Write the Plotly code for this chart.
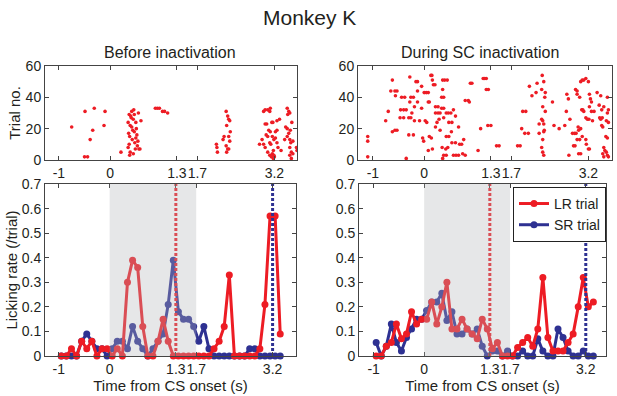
import plotly.graph_objects as go

# ---------------- data ----------------
bin_centers = [-0.95, -0.85, -0.75, -0.65, -0.55, -0.45, -0.35, -0.25, -0.15, -0.05,
               0.05, 0.15, 0.25, 0.35, 0.45, 0.55, 0.65, 0.75, 0.85, 0.95,
               1.05, 1.15, 1.25, 1.35, 1.45, 1.55, 1.65, 1.75, 1.85, 1.95,
               2.05, 2.15, 2.25, 2.35, 2.45, 2.55, 2.65, 2.75, 2.85, 2.95,
               3.05, 3.15, 3.25, 3.35]

before_lr = [0, 0, 0.03, 0, 0.06, 0.03, 0.06, 0, 0.03, 0.03,
             0, 0.03, 0, 0.30, 0.39, 0.36, 0.12, 0, 0, 0.06,
             0.15, 0.06, 0, 0, 0, 0, 0, 0, 0, 0,
             0.03, 0.06, 0.12, 0.33, 0, 0, 0, 0, 0, 0.03,
             0.21, 0.57, 0.57, 0.09]
before_sr = [0, 0, 0, 0, 0.06, 0.09, 0.06, 0.03, 0.03, 0,
             0.03, 0.06, 0.06, 0.03, 0.12, 0.06, 0.03, 0, 0.03, 0.06,
             0.09, 0.21, 0.39, 0.18, 0.15, 0.15, 0.12, 0.06, 0.12, 0.03,
             0, 0, 0, 0, 0, 0, 0, 0.03, 0.03, 0,
             0, 0, 0, 0]
during_lr = [0, 0, 0.04, 0.055, 0.13, 0.07, 0.09, 0.18, 0.13, 0.15,
             0.15, 0.22, 0.13, 0.20, 0.30, 0.11, 0.11, 0.15, 0.11, 0.09,
             0.07, 0.15, 0.11, 0.03, 0.055, 0, 0, 0, 0.035, 0.055,
             0.075, 0.04, 0.11, 0.32, 0.075, 0.02, 0.02, 0.02, 0.055, 0.09,
             0.20, 0.32, 0.20, 0.22]
during_sr = [0.055, 0, 0.04, 0.13, 0.055, 0.02, 0.075, 0.11, 0.15, 0.15,
             0.185, 0.22, 0.22, 0.255, 0.145, 0.18, 0.09, 0.09, 0.11, 0.09,
             0.11, 0.04, 0, 0.02, 0.02, 0, 0.02, 0, 0, 0.02,
             0, 0, 0.07, 0.02, 0, 0, 0.11, 0.075, 0.02, 0,
             0, 0.02, 0, 0]

# raster: (lick time, trial number)
before_raster_t = [-0.75, -0.50, -0.44, -0.49, -0.31, -0.34, -0.39, -0.10, -0.12, 0.21,
                   0.35, 0.37, 0.36, 0.38, 0.37, 0.35, 0.39, 0.38, 0.40, 0.41, 0.42, 0.43, 0.44,
                   0.45, 0.46, 0.47, 0.48, 0.49, 0.50, 0.51, 0.52, 0.53, 0.55, 0.56, 0.58, 0.60,
                   0.45, 0.42, 0.50, 0.54, 0.39, 0.47,
                   0.88, 0.92, 0.96, 1.02, 1.06, 1.12,
                   2.07, 2.08, 2.09, 2.20, 2.22, 2.26, 2.29, 2.31, 2.33, 2.27, 2.34, 2.31,
                   2.33, 2.26, 2.29, 2.27, 2.31,
                   2.91, 2.96, 2.99, 3.02, 3.07, 3.11, 3.12, 3.02, 3.05, 3.15, 3.17, 3.09,
                   3.12, 3.04, 3.07, 2.99, 3.02, 3.11, 3.13, 3.16, 3.19, 3.18, 3.16, 3.19,
                   3.20, 3.18, 3.14, 3.07, 3.11, 3.22, 3.25, 3.25, 3.30, 3.22, 3.25, 3.33,
                   3.27, 3.45, 3.48, 3.50, 3.46, 3.54, 3.42, 3.45, 3.51, 3.48, 3.45, 3.50,
                   3.52, 3.56, 3.50, 3.53, 3.50, 3.53, 3.56, 3.63, 3.64, 3.40]
before_raster_trial = [21, 2, 2, 31, 33, 19, 13, 31, 22, 5,
                       24, 29, 17, 15, 10, 8, 5, 3, 28, 27, 21, 13, 19,
                       26, 32, 18, 11, 7, 24, 20, 16, 9, 30, 7, 7, 25,
                       4, 31, 14, 12, 22, 29,
                       33, 33, 33, 31, 31, 30,
                       10, 8, 5, 13, 15, 31, 28, 26, 25, 22, 18, 15,
                       12, 9, 7, 5, 7,
                       10, 13, 31, 32, 32, 31, 33, 23, 23, 24, 24, 19,
                       18, 16, 15, 10, 8, 11, 10, 15, 13, 6, 4, 3,
                       2, 1, 2, 5, 3, 18, 19, 25, 26, 14, 11, 6,
                       8, 33, 31, 30, 29, 24, 21, 20, 19, 17, 15, 13,
                       11, 12, 8, 5, 3, 1, 4, 8, 6, 13]

during_raster_t = [-1.10, -1.10, -1.10, -0.75, -0.70, -0.62, -0.65, -0.57, -0.53, -0.56,
                   -0.62, -0.57, -0.53, -0.47, -0.40, -0.46, -0.40, -0.35, -0.44, -0.38,
                   -0.30, -0.21, -0.30, -0.26, -0.28, -0.28, -0.26, -0.21, -0.24, -0.35,
                   -0.19, -0.19, -0.16, -0.13, -0.13, -0.13, -0.09, -0.05, -0.05, -0.03,
                   0.00, 0.04, 0.08, 0.08, 0.10, 0.15, 0.13, 0.16, 0.18, 0.21,
                   0.02, 0.05, 0.10, 0.14, -0.01, 0.08, 0.16, 0.22, 0.22, 0.27,
                   0.22, 0.27, 0.31, 0.25, 0.29, 0.34, 0.38, 0.36, 0.40, 0.45,
                   0.36, 0.31, 0.35, 0.42, 0.46, 0.38, 0.43, 0.36, 0.43, 0.48,
                   0.34, 0.38, 0.43, 0.47, 0.52, 0.38, 0.48, 0.53, 0.54, 0.57,
                   0.61, 0.67, 0.54, 0.61, 0.57, 0.62, 0.67, 0.69, 0.73, 0.77,
                   0.80, 0.86, 0.88, 0.90, 0.93, 1.05, 1.10, 0.75, 0.80,
                   1.15, 1.18, 1.21, 1.21, 1.25, 1.24, 1.30, 1.41, 1.46,
                   1.82, 1.87, 1.92, 1.98, 1.90, 1.96, 2.03, 2.05, 2.10, 2.20,
                   2.18, 2.24, 2.24, 2.29, 2.31, 2.33, 2.34, 2.33, 2.31, 2.29,
                   2.31, 2.33, 2.30, 2.33, 2.29, 2.36, 2.35, 2.31, 2.36, 2.50,
                   2.53, 2.63, 2.74, 2.78, 2.81, 2.77, 2.84, 2.82, 2.89, 2.93,
                   2.96, 2.91, 2.94, 2.98, 2.95, 2.98, 2.98, 3.03, 3.01, 3.05,
                   3.00, 3.05, 3.01, 3.03, 3.05, 3.08, 3.11, 3.15, 3.20, 3.07,
                   3.09, 3.11, 3.15, 3.08, 3.15, 3.16, 3.20, 3.22, 3.18, 3.21,
                   3.22, 3.24, 3.26, 3.22, 3.26, 3.31, 3.28, 3.37, 3.41, 3.44,
                   3.42, 3.44, 3.47, 3.46, 3.50, 3.48, 3.46, 3.55, 3.59, 3.57,
                   3.59, 3.57, 3.54, 3.57, 3.50, 3.52, 3.55, 3.57, 3.59, 3.48,
                   3.50]
during_raster_trial = [15, 12, 2, 25, 31, 51, 44, 44, 44, 41,
                       18, 19, 19, 27, 27, 32, 32, 32, 40, 40,
                       16, 16, 27, 27, 53, 37, 40, 40, 30, 1,
                       34, 25, 50, 50, 44, 37, 25, 47, 33, 14,
                       43, 43, 43, 37, 37, 54, 54, 51, 48, 48,
                       25, 24, 15, 14, 12, 6, 7, 21, 34, 34,
                       30, 30, 30, 24, 26, 40, 40, 51, 51, 51,
                       45, 19, 8, 7, 8, 3, 3, 1, 15, 15,
                       33, 33, 30, 30, 30, 27, 24, 18, 24, 32,
                       28, 21, 11, 11, 3, 3, 3, 10, 10, 13,
                       38, 38, 37, 49, 49, 6, 20, 4, 3,
                       52, 52, 52, 45, 45, 22, 22, 9, 9,
                       9, 9, 31, 31, 20, 17, 17, 47, 41, 49,
                       43, 17, 23, 26, 25, 23, 19, 18, 13, 8,
                       5, 3, 54, 50, 45, 43, 40, 34, 31, 37,
                       22, 20, 22, 42, 39, 31, 26, 3, 17, 17,
                       17, 9, 9, 42, 45, 44, 13, 13, 4, 4,
                       21, 20, 19, 40, 50, 51, 51, 52, 50, 32,
                       32, 31, 27, 15, 13, 10, 7, 7, 26, 26,
                       42, 39, 37, 34, 31, 31, 25, 43, 35, 41,
                       27, 26, 27, 32, 34, 21, 22, 25, 24, 40,
                       32, 30, 15, 14, 8, 6, 5, 3, 2, 4,
                       2]

tick_vals = [-1, 0, 1.3, 1.7, 3.2]
tick_text = ["-1", "0", "1.3", "1.7", "3.2"]
rate_ticks = [0, 0.1, 0.2, 0.3, 0.4, 0.5, 0.6, 0.7]
rate_text = ["0", "0.1", "0.2", "0.3", "0.4", "0.5", "0.6", "0.7"]
trial_ticks = [0, 20, 40, 60]
cs_window = [0, 1.7]
lr_reward_time = 1.3
sr_reward_time = 3.2

# ---------------- style ----------------
RED = "#ed1c24"
BLUE = "#2e3192"
INK = "#231f20"
FONT = "Liberation Sans, Arial, sans-serif"

fig = go.Figure()

# rasters
fig.add_trace(go.Scatter(x=before_raster_t, y=before_raster_trial, mode="markers",
                         marker=dict(color=RED, size=3.6, line=dict(width=0)),
                         xaxis="x", yaxis="y", showlegend=False))
fig.add_trace(go.Scatter(x=during_raster_t, y=during_raster_trial, mode="markers",
                         marker=dict(color=RED, size=3.6, line=dict(width=0)),
                         xaxis="x2", yaxis="y2", showlegend=False))

# licking-rate curves
for xa, ya, lr, sr, leg in [("x3", "y3", before_lr, before_sr, False),
                            ("x4", "y4", during_lr, during_sr, True)]:
    fig.add_trace(go.Scatter(x=bin_centers, y=sr, mode="lines+markers", name="SR trial",
                             line=dict(color=BLUE, width=3), marker=dict(color=BLUE, size=7),
                             xaxis=xa, yaxis=ya, showlegend=leg, legendrank=2,
                             cliponaxis=False))
    fig.add_trace(go.Scatter(x=bin_centers, y=lr, mode="lines+markers", name="LR trial",
                             line=dict(color=RED, width=3), marker=dict(color=RED, size=7),
                             xaxis=xa, yaxis=ya, showlegend=leg, legendrank=1,
                             cliponaxis=False))
    fig.add_trace(go.Scatter(x=[lr_reward_time, lr_reward_time], y=[0, 0.7], mode="lines",
                             line=dict(color=RED, width=3, dash="3px,2px"),
                             xaxis=xa, yaxis=ya, showlegend=False, hoverinfo="skip"))
    fig.add_trace(go.Scatter(x=[sr_reward_time, sr_reward_time], y=[0, 0.7], mode="lines",
                             line=dict(color=BLUE, width=3, dash="3px,2px"),
                             xaxis=xa, yaxis=ya, showlegend=False, hoverinfo="skip"))
    fig.add_shape(type="rect", xref=xa, yref=ya + " domain", x0=cs_window[0], x1=cs_window[1],
                  y0=0, y1=1, fillcolor="rgb(180,182,185)", opacity=0.33,
                  line=dict(width=0), layer="above")

axis_common = dict(showline=True, linecolor="#444", linewidth=1, mirror="ticks",
                   ticks="inside", ticklen=4, tickcolor="#444", showgrid=False,
                   zeroline=False, automargin=False, tickangle=0,
                   tickfont=dict(size=14, color=INK, family=FONT))

LEFT_TOP = [0, 0.4453]
LEFT_BOT = [0, 0.4427]
RIGHT_TOP = [0.552, 1.0]
RIGHT_BOT = [0.5538, 0.9894]
TOP = [0.676, 1.0]
BOT = [0.0, 0.593]
title_font = dict(size=15, color=INK, family=FONT)

fig.update_layout(
    template="none",
    width=617, height=396,
    margin=dict(l=45, r=5, t=66, b=40),
    plot_bgcolor="white", paper_bgcolor="white",
    font=dict(family=FONT, color=INK),
    xaxis=dict(axis_common, domain=LEFT_TOP, anchor="y", range=[-1.27, 3.65],
               tickvals=tick_vals, ticktext=tick_text),
    yaxis=dict(axis_common, domain=TOP, anchor="x", range=[0, 60], tickvals=trial_ticks,
               title=dict(text="Trial no.", font=title_font, standoff=1)),
    xaxis2=dict(axis_common, domain=RIGHT_TOP, anchor="y2", range=[-1.29, 3.66],
                tickvals=tick_vals, ticktext=tick_text),
    yaxis2=dict(axis_common, domain=TOP, anchor="x2", range=[0, 60], tickvals=trial_ticks),
    xaxis3=dict(axis_common, domain=LEFT_BOT, anchor="y3", range=[-1.27, 3.66],
                tickvals=tick_vals, ticktext=tick_text,
                title=dict(text="Time from CS onset (s)", font=title_font, standoff=2)),
    yaxis3=dict(axis_common, domain=BOT, anchor="x3", range=[0, 0.7], tickvals=rate_ticks,
                ticktext=rate_text,
                title=dict(text="Licking rate (/trial)", font=title_font, standoff=0)),
    xaxis4=dict(axis_common, domain=RIGHT_BOT, anchor="y4", range=[-1.29, 3.60],
                tickvals=tick_vals, ticktext=tick_text,
                title=dict(text="Time from CS onset (s)", font=title_font, standoff=2)),
    yaxis4=dict(axis_common, domain=BOT, anchor="x4", range=[0, 0.7], tickvals=rate_ticks,
                ticktext=rate_text),
    legend=dict(x=0.9894, y=0.583, xanchor="right", yanchor="top", bgcolor="white",
                bordercolor="#222", borderwidth=1, font=dict(size=14, color=INK, family=FONT),
                itemwidth=30, tracegroupgap=0),
    annotations=[
        dict(text="Monkey K", x=0.467, y=1.166, xref="paper", yref="paper", showarrow=False,
             font=dict(size=21, color=INK, family=FONT), xanchor="center", yanchor="middle"),
        dict(text="Before inactivation", x=0.2205, y=1.048, xref="paper", yref="paper",
             showarrow=False, font=dict(size=16, color=INK, family=FONT),
             xanchor="center", yanchor="middle"),
        dict(text="During SC inactivation", x=0.767, y=1.048, xref="paper", yref="paper",
             showarrow=False, font=dict(size=16, color=INK, family=FONT),
             xanchor="center", yanchor="middle"),
    ],
)

fig.write_html("out.html", config={"displayModeBar": False},
               post_script="document.body.style.margin='0';document.body.style.overflow='hidden';")
